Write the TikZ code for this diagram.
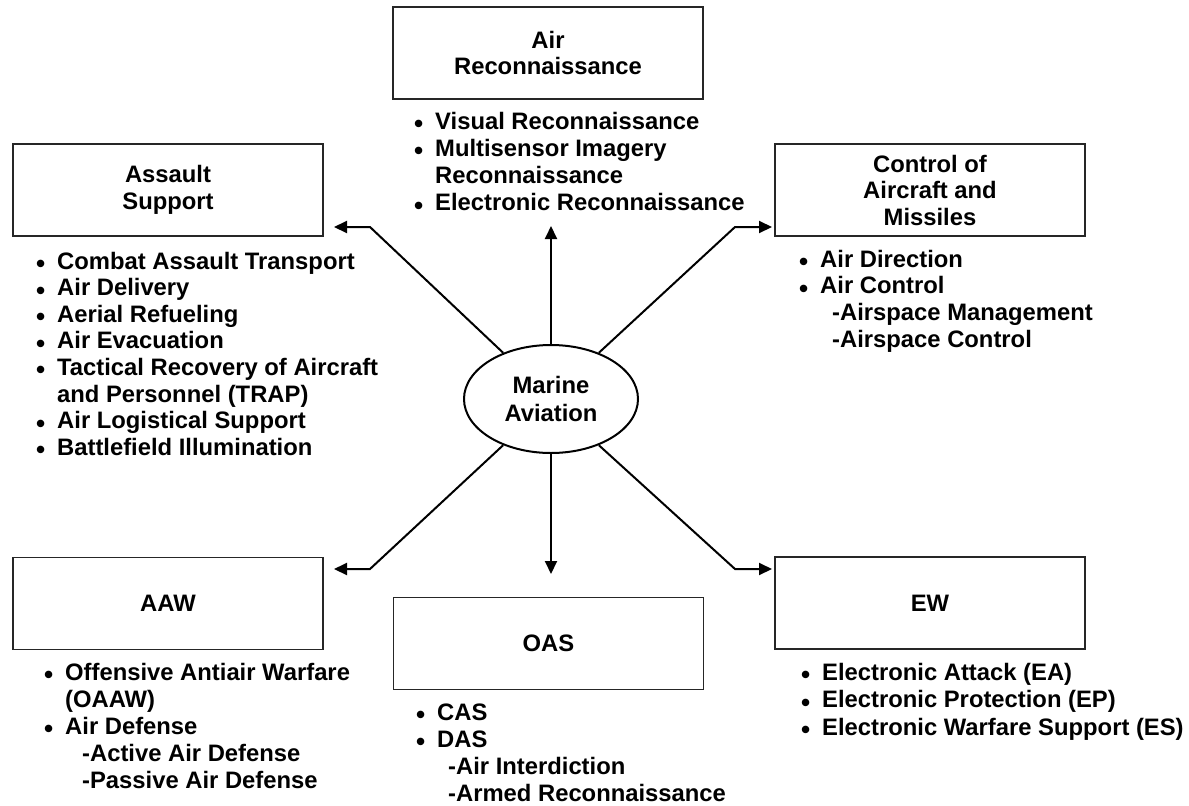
\documentclass[tikz,border=0pt]{standalone}
\usepackage{fontspec}
\setmainfont{Liberation Sans}
\usetikzlibrary{shapes.geometric,arrows.meta}
\newcommand\bu{\llap{\raisebox{-0.15em}{\fontsize{26}{26}\selectfont •}\hspace{12pt}}}
\begin{document}
\begin{tikzpicture}[x=1pt,y=-1pt,
  box/.style={draw=black!85, line width=1.5pt, minimum width=310pt, minimum height=92pt,
    inner sep=0pt, align=center, font=\fontsize{23.8}{26.5}\selectfont\bfseries},
  li/.style={anchor=base west, inner sep=0pt, font=\fontsize{23.8}{27}\selectfont\bfseries},
  hub/.style={draw=black, line width=2pt, ellipse, minimum width=174pt, minimum height=108pt,
    inner sep=0pt, align=center, font=\fontsize{23.8}{28}\selectfont\bfseries},
  arr/.style={line width=2pt, -{Triangle[length=13pt,width=12pt]}}]
\useasboundingbox (0,0) rectangle (1189,806);

% boxes
\node[box] (ar)  at (548,53)    {Air\\Reconnaissance};
\node[box] (as)  at (168,190)   {Assault\\Support};
\node[box] (cm)  at (930,190)   {Control of\\Aircraft and\\Missiles};
\node[box] (aaw) at (168,603.5) {AAW};
\node[box] (oas) at (548.5,643.5) {OAS};
\node[box] (ew)  at (930,603)   {EW};

% hub
\node[hub] (ma) at (551,399) {Marine\\Aviation};

% arrows
\coordinate (bNW) at (370,227);
\coordinate (tNW) at (334,227);
\coordinate (bNE) at (735,227);
\coordinate (tNE) at (772,227);
\coordinate (bSW) at (370,569);
\coordinate (tSW) at (334,569);
\coordinate (bSE) at (735,569);
\coordinate (tSE) at (772,569);
\coordinate (tN) at (551,226);
\coordinate (tS) at (551,574);
\draw[arr] (ma.136) -- (bNW) -- (tNW);
\draw[arr] (ma.44) -- (bNE) -- (tNE);
\draw[arr] (ma.224) -- (bSW) -- (tSW);
\draw[arr] (ma.316) -- (bSE) -- (tSE);
\draw[arr] (ma.north) -- (tN);
\draw[arr] (ma.south) -- (tS);

% lists
\foreach \t [count=\i] in {{\bu Visual Reconnaissance},{\bu Multisensor Imagery},{Reconnaissance},{\bu Electronic Reconnaissance}}
  \node[li] (arl\i) at (435,{129+27.3*(\i-1)}) {\t};

\foreach \t [count=\i] in {{\bu Combat Assault Transport},{\bu Air Delivery},{\bu Aerial Refueling},{\bu Air Evacuation},{\bu Tactical Recovery of Aircraft},{and Personnel (TRAP)},{\bu Air Logistical Support},{\bu Battlefield Illumination}}
  \node[li] (asl\i) at (57,{269+26.6*(\i-1)}) {\t};

\foreach \t [count=\i] in {{\bu Air Direction},{\bu Air Control},{\hspace*{12pt}-Airspace Management},{\hspace*{12pt}-Airspace Control}}
  \node[li] (cml\i) at (820,{267+26.7*(\i-1)}) {\t};

\foreach \t [count=\i] in {{\bu Offensive Antiair Warfare},{(OAAW)},{\bu Air Defense},{\hspace*{17pt}-Active Air Defense},{\hspace*{17pt}-Passive Air Defense}}
  \node[li] (aawl\i) at (65,{680+27.2*(\i-1)}) {\t};

\foreach \t [count=\i] in {{\bu CAS},{\bu DAS},{\hspace*{11pt}-Air Interdiction},{\hspace*{11pt}-Armed Reconnaissance}}
  \node[li] (oasl\i) at (437,{720+27*(\i-1)}) {\t};

\foreach \t [count=\i] in {{\bu Electronic Attack (EA)},{\bu Electronic Protection (EP)},{\bu Electronic Warfare Support (ES)}}
  \node[li] (ewl\i) at (822,{680+27.5*(\i-1)}) {\t};
\end{tikzpicture}
\end{document}
